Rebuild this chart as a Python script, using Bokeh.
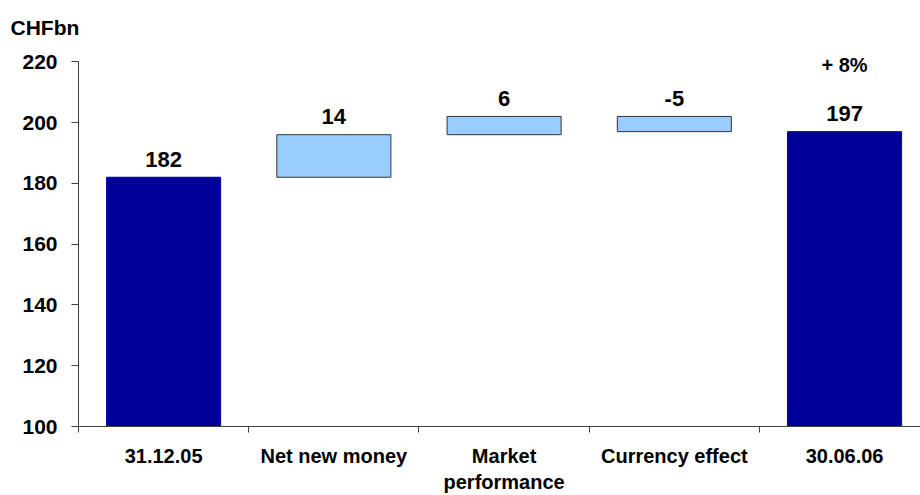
from bokeh.plotting import figure
from bokeh.models import ColumnDataSource, Range1d, FixedTicker, Label
from bokeh.core.properties import value
from bokeh.embed import file_html
from bokeh.resources import INLINE

categories = ["31.12.05", "Net new money", "Market\nperformance", "Currency effect", "30.06.06"]
values = [182, 14, 6, -5, 197]
is_total = [True, False, False, False, True]
y_ticks = [100, 120, 140, 160, 180, 200, 220]
growth_label = "+ 8%"
unit_label = "CHFbn"

FONT = "Liberation Sans"
NAVY = "#000099"
LIGHT = "#99CCFF"

# waterfall geometry derived from values
xs = [i + 0.5 for i in range(len(categories))]
bottoms, tops = [], []
running = 0
for v, tot in zip(values, is_total):
    if tot:
        bottoms.append(0)
        tops.append(v)
        running = v
    else:
        a, b = running, running + v
        bottoms.append(min(a, b))
        tops.append(max(a, b))
        running = b

colors = [NAVY if t else LIGHT for t in is_total]
lines = [NAVY if t else "#333333" for t in is_total]
labels = [str(v) for v in values]

src = ColumnDataSource(dict(x=xs, bottom=bottoms, top=tops, color=colors,
                            line=lines, label=labels))

p = figure(width=920, height=495, output_backend="svg", toolbar_location=None,
           x_range=Range1d(0, 4.946), y_range=Range1d(100, 226),
           min_border_left=78, min_border_right=0, min_border_top=43,
           min_border_bottom=67)
p.title.text = unit_label
p.title.text_font = FONT
p.title.text_font_size = "21px"
p.title.text_font_style = "bold"
p.title.text_color = "black"
p.title.align = "left"
p.title.offset = -68
p.title.standoff = 9

p.vbar(x="x", width=0.67, bottom="bottom", top="top", fill_color="color",
       line_color="line", line_width=1, source=src)

p.text(x="x", y="top", text="label", source=src, text_font=value(FONT),
       text_font_size="22px", text_font_style="bold", text_align="center",
       text_baseline="alphabetic", y_offset=-18, text_color="black")

p.add_layout(Label(x=xs[-1], y=218.8, text=growth_label, text_font=FONT,
                   text_font_size="20px", text_font_style="bold",
                   text_align="center", text_baseline="alphabetic",
                   text_color="black"))

p.xgrid.visible = False
p.ygrid.visible = False
p.outline_line_color = None
p.background_fill_color = "white"
p.border_fill_color = "white"

xa = p.xaxis[0]
xa.ticker = FixedTicker(ticks=xs, minor_ticks=list(range(len(categories) + 1)))
xa.major_label_overrides = {x: c for x, c in zip(xs, categories)}
xa.major_tick_out = 0
xa.major_tick_in = 0
xa.minor_tick_out = 6
xa.minor_tick_in = 0
xa.minor_tick_line_color = "#404040"
xa.axis_line_color = "#404040"
xa.major_label_text_font = FONT
xa.major_label_text_font_size = "20px"
xa.major_label_text_font_style = "bold"
xa.major_label_text_color = "black"
xa.major_label_standoff = 12

ya = p.yaxis[0]
ya.ticker = FixedTicker(ticks=y_ticks)
ya.bounds = (y_ticks[0], y_ticks[-1])
ya.minor_tick_line_color = None
ya.major_tick_out = 7
ya.major_tick_in = 0
ya.major_tick_line_color = "#404040"
ya.axis_line_color = "#404040"
ya.major_label_text_font = FONT
ya.major_label_text_font_size = "21px"
ya.major_label_text_font_style = "bold"
ya.major_label_text_color = "black"
ya.major_label_standoff = 14

open("out.html", "w").write(file_html(p, INLINE))
